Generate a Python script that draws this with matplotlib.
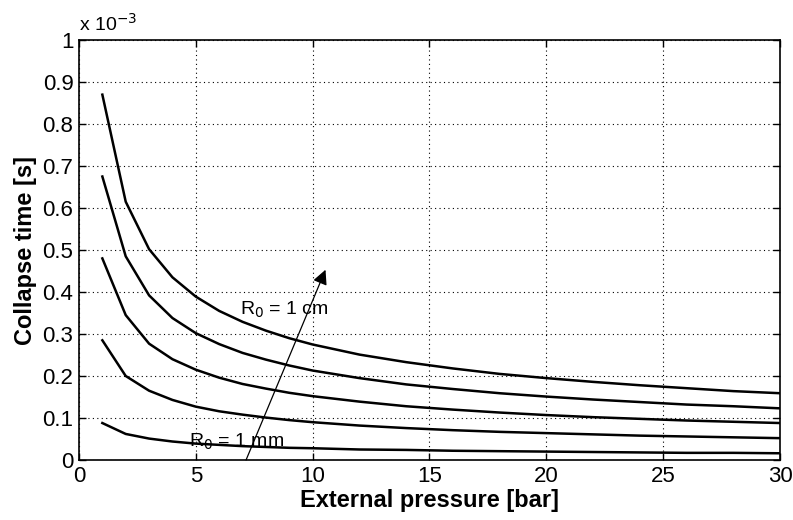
import numpy as np
import matplotlib
matplotlib.use("Agg")
import matplotlib.pyplot as plt
from matplotlib.ticker import FuncFormatter, MultipleLocator

plt.rcParams['font.family'] = ['Liberation Sans', 'DejaVu Sans']

# --- data (collapse time in units of 1e-3 s) ---
pressure = [1, 2, 3, 4, 5, 6, 7, 8, 9, 10, 12, 14, 16, 18, 20, 22, 24, 26, 28, 30]

t_1cm   = [0.870, 0.615, 0.502, 0.435, 0.389, 0.355, 0.329, 0.308, 0.290, 0.275,
           0.251, 0.233, 0.218, 0.205, 0.195, 0.186, 0.178, 0.171, 0.164, 0.159]
t_775mm = [0.675, 0.485, 0.392, 0.338, 0.302, 0.276, 0.255, 0.239, 0.225, 0.213,
           0.195, 0.180, 0.169, 0.159, 0.151, 0.144, 0.138, 0.132, 0.128, 0.123]
t_55mm  = [0.480, 0.345, 0.277, 0.240, 0.215, 0.196, 0.181, 0.170, 0.160, 0.152,
           0.139, 0.128, 0.120, 0.113, 0.107, 0.102, 0.098, 0.094, 0.091, 0.088]
t_325mm = [0.285, 0.200, 0.165, 0.143, 0.127, 0.116, 0.108, 0.101, 0.095, 0.090,
           0.082, 0.076, 0.071, 0.067, 0.064, 0.061, 0.058, 0.056, 0.054, 0.052]
t_1mm   = [0.088, 0.062, 0.051, 0.044, 0.039, 0.036, 0.033, 0.031, 0.029, 0.028,
           0.025, 0.024, 0.022, 0.021, 0.020, 0.019, 0.018, 0.017, 0.017, 0.016]

curves = [t_1cm, t_775mm, t_55mm, t_325mm, t_1mm]

fig = plt.figure(figsize=(7.93, 5.2), dpi=100)
ax = fig.add_axes([0.0996, 0.1154, 0.8840, 0.8076])

for c in curves:
    ax.plot(pressure, np.array(c) * 1e-3, color='black', lw=1.8)

# arrow showing increasing bubble radius
ax.annotate('', xy=(10.55, 0.453e-3), xytext=(7.15, 0.0),
            arrowprops=dict(arrowstyle='-|>', color='black', lw=0.9,
                            mutation_scale=22, shrinkA=0, shrinkB=0))

ax.text(6.9, 0.345e-3, 'R$_0$ = 1 cm', fontsize=14)
ax.text(4.7, 0.031e-3, 'R$_0$ = 1 mm', fontsize=14)

ax.set_xlim(0, 30)
ax.set_ylim(0, 1e-3)
ax.xaxis.set_major_locator(MultipleLocator(5))
ax.yaxis.set_major_locator(MultipleLocator(0.1e-3))
ax.yaxis.set_major_formatter(FuncFormatter(lambda v, pos: f"{v*1e3:g}"))

ax.grid(True, color='black', linestyle=(0, (1, 3)), lw=0.8)
ax.tick_params(direction='in', top=True, right=True, labelsize=16, length=5,
               width=1, pad=4)
for s in ax.spines.values():
    s.set_linewidth(1.2)

ax.text(0.0, 1.012, 'x 10$^{-3}$', transform=ax.transAxes, fontsize=14,
        ha='left', va='bottom')

ax.set_xlabel('External pressure [bar]', fontsize=17, fontweight='bold', labelpad=2)
ax.set_ylabel('Collapse time [s]', fontsize=17, fontweight='bold', labelpad=4)

fig.savefig('out.png', dpi=100)
